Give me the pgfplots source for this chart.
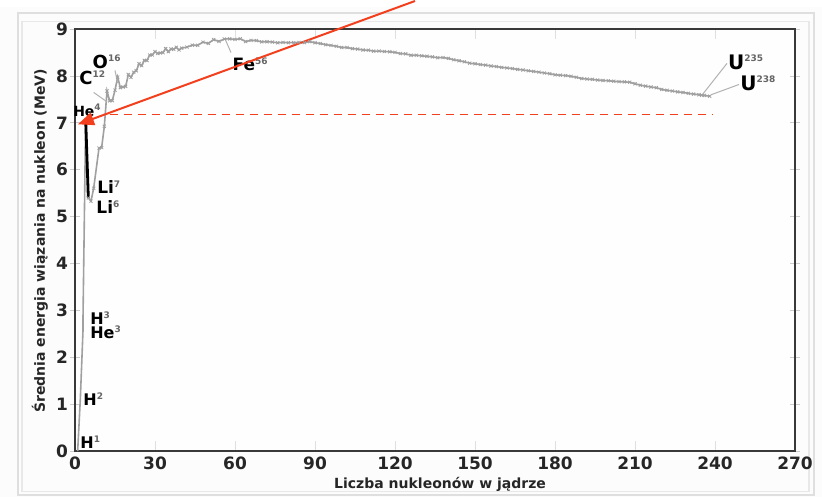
\documentclass[border=0pt]{standalone}
\usepackage{fontspec}
\setmainfont{DejaVu Sans}
\usepackage{pgfplots}
\pgfplotsset{compat=1.18}
\usetikzlibrary{arrows.meta}
\definecolor{redarrow}{HTML}{F2401E}
\definecolor{curvegray}{HTML}{A0A0A0}
\newcommand\iso[2]{\textbf{#1}\raisebox{0.7ex}{\fontsize{4.5}{5}\selectfont\bfseries\color{gray!80!black}#2}}
\pgfplotstableread{
A BA
1 0
2 1.112
3 2.573
3 2.827
4 7.074
}\light
\pgfplotstableread{
A BA
4 7.074
5 5.40
}\heavy
\pgfplotstableread{
A BA
5 5.40
6 5.332
7 5.606
9 6.463
10 6.475
11 6.928
12 7.680
13 7.470
14 7.476
15 7.699
16 7.976
17 7.751
18 7.767
19 7.779
20 8.032
21 7.972
22 8.080
23 8.112
24 8.261
25 8.223
26 8.334
27 8.332
28 8.448
29 8.449
30 8.521
31 8.481
32 8.493
33 8.498
34 8.584
35 8.520
36 8.576
37 8.570
38 8.614
39 8.557
40 8.595
42 8.617
44 8.658
46 8.656
48 8.723
50 8.696
52 8.776
54 8.738
56 8.790
58 8.792
60 8.781
62 8.795
64 8.736
66 8.760
68 8.756
70 8.729
72 8.732
74 8.725
76 8.709
78 8.717
80 8.711
82 8.711
84 8.717
86 8.712
88 8.733
90 8.710
92 8.693
94 8.668
96 8.654
98 8.635
100 8.609
102 8.607
104 8.585
106 8.575
108 8.556
110 8.551
112 8.531
114 8.532
116 8.523
118 8.517
120 8.505
122 8.479
124 8.473
126 8.443
128 8.443
130 8.431
132 8.421
134 8.408
136 8.391
138 8.393
140 8.376
142 8.347
144 8.327
146 8.304
148 8.274
150 8.262
152 8.245
154 8.233
156 8.215
158 8.202
160 8.184
162 8.173
164 8.159
166 8.142
168 8.130
170 8.112
172 8.098
174 8.083
176 8.065
178 8.049
180 8.026
182 8.018
184 8.009
186 7.994
188 7.974
190 7.947
192 7.935
194 7.928
196 7.914
198 7.905
200 7.899
202 7.889
204 7.880
206 7.875
208 7.868
210 7.835
212 7.804
214 7.785
216 7.766
218 7.751
220 7.714
222 7.695
224 7.680
226 7.662
228 7.650
230 7.631
232 7.615
234 7.601
235 7.591
236 7.586
238 7.570
}\curve
\begin{document}
\begin{tikzpicture}
\fill[gray!2] (-37.5pt,-23pt) rectangle (373.5pt,222pt);
\draw[gray!25, line width=0.8pt] (-28.5pt,-22pt) rectangle (369.5pt,219pt);
\draw[gray!18, line width=0.6pt] (-26.5pt,-20pt) rectangle (367pt,215pt);
\begin{axis}[
  at={(0pt,0pt)}, anchor=south west,
  scale only axis, width=360pt, height=211pt,
  xmin=0, xmax=270, ymin=0, ymax=9,
  xtick={0,30,...,270}, ytick={0,1,...,9},
  clip=false,
  axis line style={gray!45!black, line width=0.9pt},
  axis background/.style={fill=gray!1},
  x tick style={gray!25, line width=0.5pt},
  y tick style={gray!40, line width=0.5pt},
  xtick align=inside, ytick align=center,
  major tick length=5pt,
  tick label style={font=\bfseries\fontsize{8.5}{9}\selectfont, text=black!85},
  /pgf/number format/assume math mode=true,
  xticklabel style={yshift=0.5pt},
  yticklabel style={xshift=2.5pt},
  xlabel={Liczba nukleonów w jądrze},
  ylabel={Średnia energia wiązania na nukleon (MeV)},
  label style={font=\bfseries\fontsize{7}{8}\selectfont, text=black!85},
  xlabel style={at={(axis description cs:0.507,0)}, anchor=center, yshift=-16.5pt},
  ylabel style={at={(axis description cs:0,0.498)}, anchor=center, yshift=17.5pt},
]
\addplot[curvegray, line width=0.8pt] table[x=A,y=BA] {\light};
\addplot[black, line width=1.4pt] table[x=A,y=BA] {\heavy};
\addplot[curvegray, line width=0.8pt, mark=x, mark size=1.1pt, mark options={gray!75, line width=0.4pt}] table[x=A,y=BA] {\curve};
% leader lines
\draw[gray!60, line width=0.5pt] (axis cs:7,7.65) -- (axis cs:12,7.45);
\draw[gray!60, line width=0.5pt] (axis cs:15,8.12) -- (axis cs:16,7.85);
\draw[gray!60, line width=0.5pt] (axis cs:58.5,8.5) -- (axis cs:56.5,8.76);
\draw[gray!60, line width=0.5pt] (axis cs:244.5,8.27) -- (axis cs:235.5,7.62);
\draw[gray!60, line width=0.5pt] (axis cs:249,7.82) -- (axis cs:238.5,7.60);
% labels
\node[anchor=west, inner sep=0pt, font=\fontsize{8}{9}\selectfont] at (axis cs:1.9,0.19) {\iso{H}{1}};
\node[anchor=west, inner sep=0pt, font=\fontsize{8}{9}\selectfont] at (axis cs:3,1.11) {\iso{H}{2}};
\node[anchor=west, inner sep=0pt, font=\fontsize{8}{9}\selectfont] at (axis cs:5.6,2.84) {\iso{H}{3}};
\node[anchor=west, inner sep=0pt, font=\fontsize{8}{9}\selectfont] at (axis cs:5.6,2.54) {\iso{He}{3}};
\node[anchor=west, inner sep=0pt, font=\fontsize{7}{8}\selectfont] at (axis cs:-0.8,7.27) {\iso{He}{4}};
\node[anchor=west, inner sep=0pt, font=\fontsize{8.5}{9}\selectfont] at (axis cs:8.2,5.63) {\iso{Li}{7}};
\node[anchor=west, inner sep=0pt, font=\fontsize{8.5}{9}\selectfont] at (axis cs:7.9,5.20) {\iso{Li}{6}};
\node[anchor=west, inner sep=0pt, font=\fontsize{9}{10}\selectfont] at (axis cs:1.5,7.97) {\iso{C}{12}};
\node[anchor=west, inner sep=0pt, font=\fontsize{9}{10}\selectfont] at (axis cs:6.5,8.30) {\iso{O}{16}};
\node[anchor=west, inner sep=0pt, font=\fontsize{8.5}{9}\selectfont] at (axis cs:59,8.25) {\iso{Fe}{56}};
\node[anchor=west, inner sep=0pt, font=\fontsize{10}{11}\selectfont] at (axis cs:244.8,8.29) {\iso{U}{235}};
\node[anchor=west, inner sep=0pt, font=\fontsize{10}{11}\selectfont] at (axis cs:249.4,7.85) {\iso{U}{238}};
% red annotations
\draw[redarrow, line width=0.7pt, dash pattern=on 4pt off 3pt] (axis cs:13,7.18) -- (axis cs:239,7.18);
\draw[redarrow, line width=1pt, -{Triangle[length=8pt,width=6.5pt]}] (axis cs:127.5,9.6) -- (axis cs:1.1,6.97);
\end{axis}
\useasboundingbox (-37.5pt,-23pt) rectangle (373.5pt,222pt);
\end{tikzpicture}
\end{document}
